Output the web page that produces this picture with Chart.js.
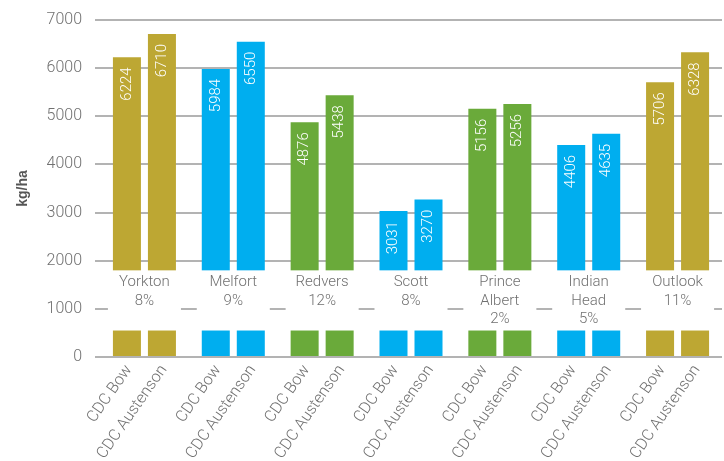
<!DOCTYPE html>
<html>
<head>
<meta charset="utf-8">
<script src="https://cdn.jsdelivr.net/npm/chart.js@4.4.1/dist/chart.umd.min.js"></script>
<style>
  body { margin: 0; background: #fff; }
</style>
</head>
<body>
<canvas id="chart" width="724" height="461"></canvas>
<script>
// Site names (one entry per line of the label) and advantage of CDC Austenson
const sites = [["Yorkton"], ["Melfort"], ["Redvers"], ["Scott"], ["Prince", "Albert"], ["Indian", "Head"], ["Outlook"]];
const advantage = ["8%", "9%", "12%", "8%", "2%", "5%", "11%"];
const varieties = ["CDC Bow", "CDC Austenson"];
const bowYield = [6224, 5984, 4876, 3031, 5156, 4406, 5706];
const austensonYield = [6710, 6550, 5438, 3270, 5256, 4635, 6328];
const yTicks = [0, 1000, 2000, 3000, 4000, 5000, 6000, 7000];

// colours per site
const GOLD = "#BDA733", BLUE = "#00AEEF", GREEN = "#6AAA3A";
const siteColors = [GOLD, BLUE, GREEN, BLUE, GREEN, BLUE, GOLD];

// the axis is broken between these two values (white band with site labels)
const breakFrom = 550;
const breakTo = 1800;

const FONT = "Roboto";
const GREY = "#707070";

const breakPlugin = {
  id: "breakLabels",
  afterDatasetsDraw(chart) {
    const ctx = chart.ctx;
    const y = chart.scales.y;
    const metas = [chart.getDatasetMeta(0), chart.getDatasetMeta(1)];
    const top = y.getPixelForValue(breakTo);
    const bot = y.getPixelForValue(breakFrom);
    ctx.save();

    sites.forEach((name, i) => {
      const a = metas[0].data[i], b = metas[1].data[i];
      const left = a.x - a.width / 2 - 5;
      const right = b.x + b.width / 2 + 5;
      ctx.fillStyle = "#fff";
      ctx.fillRect(left, top, right - left, bot - top);

      // site name + advantage
      const lines = name.concat([advantage[i]]);
      ctx.fillStyle = GREY;
      ctx.font = "300 15px " + FONT;
      ctx.textAlign = "center";
      ctx.textBaseline = "middle";
      lines.forEach((t, k) => ctx.fillText(t, (a.x + b.x) / 2, top + 12 + k * 18.5));

      // values inside bars, and variety names under the axis
      metas.forEach((m, d) => {
        const bar = m.data[i];
        const val = chart.data.datasets[d].data[i];

        ctx.save();
        ctx.translate(bar.x, bar.y + 10);
        ctx.rotate(-Math.PI / 2);
        ctx.fillStyle = "#fff";
        ctx.font = "300 15px " + FONT;
        ctx.textAlign = "right";
        ctx.textBaseline = "middle";
        ctx.fillText(String(val), 0, 0);
        ctx.restore();

        ctx.save();
        ctx.translate(bar.x + 2, y.bottom + 10);
        ctx.rotate(-55 * Math.PI / 180);
        ctx.fillStyle = GREY;
        ctx.font = "300 16px " + FONT;
        ctx.textAlign = "right";
        ctx.textBaseline = "middle";
        ctx.fillText(varieties[d], 0, 0);
        ctx.restore();
      });
    });
    ctx.restore();
  }
};

const ctx = document.getElementById("chart").getContext("2d");
new Chart(ctx, {
  type: "bar",
  data: {
    labels: sites.map((s) => s.join(" ")),
    datasets: [
      { label: varieties[0], data: bowYield, backgroundColor: siteColors },
      { label: varieties[1], data: austensonYield, backgroundColor: siteColors },
    ],
  },
  options: {
    responsive: false,
    animation: false,
    categoryPercentage: 0.788,
    barPercentage: 0.8,
    layout: { padding: { top: 20, right: 2, bottom: 0, left: 0 } },
    plugins: {
      legend: { display: false },
      tooltip: { enabled: false },
    },
    scales: {
      x: {
        ticks: { display: false },
        grid: { display: false },
        border: { display: false },
        afterFit: (s) => { s.height = 104; },
      },
      y: {
        min: 0,
        max: 7000,
        afterBuildTicks: (s) => { s.ticks = yTicks.map((v) => ({ value: v })); },
        afterFit: (s) => { s.width = 100; s.paddingTop = 10; },
        ticks: {
          color: GREY,
          padding: 13,
          font: { family: FONT, size: 16, weight: "300" },
          callback: (v) => String(v),
        },
        grid: { color: "#b3b3b3", lineWidth: 2, tickLength: 5 },
        border: { display: false },
        title: {
          display: true,
          text: "kg/ha",
          color: "#555",
          font: { family: "Liberation Sans", size: 14, weight: "bold" },
          padding: { top: 15 },
        },
      },
    },
  },
  plugins: [breakPlugin],
});
</script>
</body>
</html>
